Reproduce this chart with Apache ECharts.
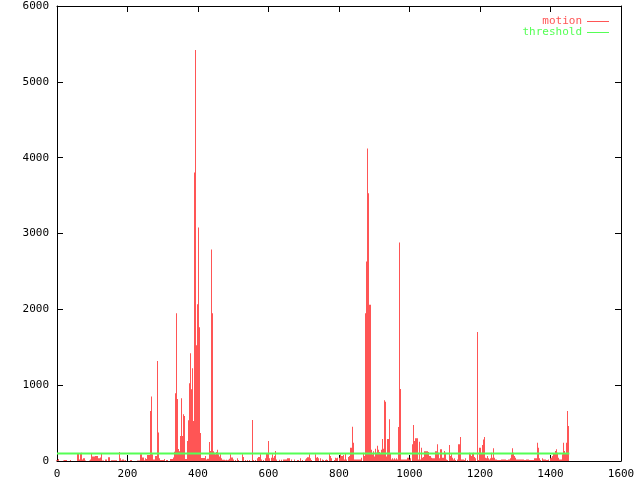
<!DOCTYPE html>
<html>
<head>
<meta charset="utf-8">
<script src="https://cdn.jsdelivr.net/npm/echarts@6/dist/echarts.min.js"></script>
<style>html,body{margin:0;padding:0;background:#fff;}#c{width:640px;height:480px;}</style>
</head>
<body>
<div id="c"></div>
<script>
// frame sampling step (frames 0, 3, 6, ...)
const frameStep = 3;
// motion values, one per sampled frame (10 per row = 30 frames)
const motion = [
  10,26,0,0,0,0,5,13,13,13,
  0,0,0,13,0,0,0,0,0,95,
  95,20,100,110,20,35,35,5,0,0,
  0,5,20,95,60,60,65,65,65,35,
  35,45,95,5,5,0,20,20,0,50,
  50,0,10,10,10,10,10,0,0,120,
  35,10,20,20,5,13,0,0,0,0,
  13,0,0,0,0,0,8,8,8,88,
  88,45,45,10,35,25,80,80,658,852,
  88,20,20,65,65,1320,377,35,13,13,
  13,13,25,0,13,0,0,25,25,25,
  45,123,895,1947,816,158,130,330,829,330,
  618,592,26,263,539,1026,1421,947,1224,526,
  3803,5420,1526,2066,3079,1763,368,40,40,40,
  66,20,30,30,250,132,2789,1947,130,110,
  90,120,150,90,60,90,35,15,15,10,
  15,10,15,30,88,45,45,20,0,13,
  0,35,13,0,0,88,52,0,13,0,
  13,0,13,0,0,540,13,0,13,0,
  35,52,88,20,0,13,0,35,96,96,
  263,35,0,44,88,44,66,132,20,0,
  15,0,15,0,20,20,20,20,35,35,
  35,0,20,0,0,20,0,13,13,0,
  35,0,13,0,0,20,35,50,50,88,
  35,13,0,0,88,44,52,35,0,35,
  0,20,13,0,13,20,13,0,96,66,
  35,0,13,44,35,44,0,44,88,66,
  66,80,20,96,20,0,52,66,175,452,
  240,20,20,20,20,20,20,20,44,0,
  110,66,1950,2630,4120,3530,2060,150,90,130,
  60,160,110,200,150,120,100,150,290,160,
  800,780,60,290,550,100,20,35,20,35,
  20,35,20,450,2880,950,20,20,20,20,
  20,44,44,20,35,0,220,474,265,300,
  300,300,20,255,20,175,44,52,130,130,
  130,120,66,66,44,35,35,35,130,130,
  220,110,35,154,154,44,132,110,20,13,
  0,210,66,88,44,20,35,13,0,20,
  220,220,316,20,20,13,35,0,13,0,
  110,88,66,96,110,52,35,0,1700,13,
  175,110,210,285,316,44,35,66,35,20,
  35,110,44,167,44,20,20,13,13,13,
  20,20,20,20,20,13,13,20,20,35,
  88,167,110,66,44,20,20,20,20,20,
  20,20,13,13,20,20,20,13,13,13,
  13,13,35,35,240,175,35,13,0,35,
  20,20,20,13,13,20,0,35,44,66,
  96,132,154,110,44,20,20,20,88,240,
  132,96,240,658,461
];
const thresholdValue = 100;
const xTicks = { min: 0, max: 1600, interval: 200 };
const yTicks = { min: 0, max: 6000, interval: 1000 };

const motionColor = '#ff5555';
const thresholdColor = '#55ff55';

const motionData = motion.map((v, i) => [i * frameStep, v]);
const lastFrame = (motion.length - 1) * frameStep;
const thresholdData = [[0, thresholdValue], [lastFrame + frameStep / 2, thresholdValue]];

const font = 'DejaVu Sans Mono';
const chart = echarts.init(document.getElementById('c'), null, { renderer: 'canvas' });

function axisCommon(show) {
  return {
    axisLine: { show: true, onZero: false, lineStyle: { color: '#000', width: 1 } },
    axisTick: { show: true, inside: true, length: 6, lineStyle: { color: '#000' } },
    splitLine: { show: false },
    axisLabel: { show: show, color: '#000', fontFamily: font, fontSize: 11, margin: 8,
      formatter: function (v) { return String(v); } }
  };
}

chart.setOption({
  animation: false,
  backgroundColor: '#fff',
  grid: { left: 57, right: 19, top: 6, bottom: 18 },
  legend: {
    orient: 'vertical', right: 26, top: 11, align: 'right',
    itemWidth: 22, itemHeight: 1, itemGap: 0, icon: 'rect',
    textStyle: { fontFamily: font, fontSize: 11, lineHeight: 11 },
    data: [
      { name: 'motion', itemStyle: { color: motionColor }, textStyle: { color: motionColor } },
      { name: 'threshold', itemStyle: { color: thresholdColor }, textStyle: { color: thresholdColor } }
    ]
  },
  xAxis: [
    Object.assign({ type: 'value', position: 'bottom' }, xTicks, axisCommon(true)),
    Object.assign({ type: 'value', position: 'top' }, xTicks, axisCommon(false))
  ],
  yAxis: [
    Object.assign({ type: 'value', position: 'left' }, yTicks, axisCommon(true)),
    Object.assign({ type: 'value', position: 'right' }, yTicks, axisCommon(false))
  ],
  series: [
    {
      name: 'motion', type: 'custom', xAxisIndex: 0, yAxisIndex: 0,
      itemStyle: { color: motionColor },
      data: motionData,
      renderItem: function (params, api) {
        const x = api.value(0), y = api.value(1);
        if (!y) return null;
        const p0 = api.coord([x - frameStep / 2, y]);
        const p1 = api.coord([x + frameStep / 2, 0]);
        let x0 = Math.round(p0[0]), x1 = Math.round(p1[0]);
        if (x1 <= x0) x1 = x0 + 1;
        return { type: 'rect', shape: { x: x0, y: p0[1], width: x1 - x0, height: p1[1] - p0[1] }, style: { fill: motionColor } };
      }
    },
    {
      name: 'threshold', type: 'line', xAxisIndex: 0, yAxisIndex: 0,
      data: thresholdData, symbol: 'none', z: 3,
      lineStyle: { color: thresholdColor, width: 2 },
      itemStyle: { color: thresholdColor }
    }
  ]
});
</script>
</body>
</html>
